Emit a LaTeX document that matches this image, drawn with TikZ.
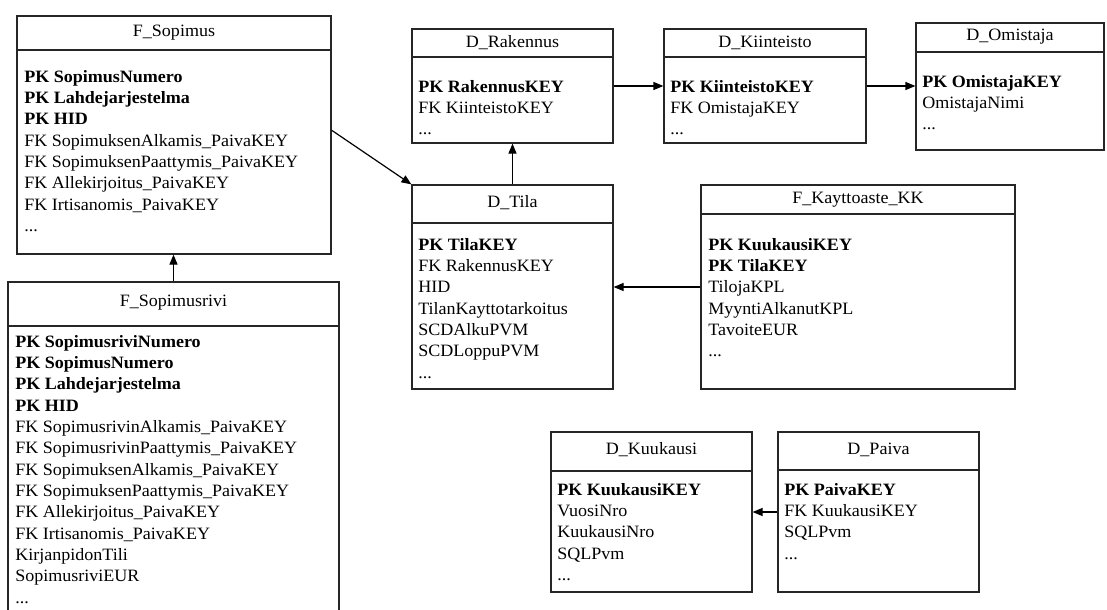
\documentclass[tikz,border=0pt]{standalone}
\usepackage{fontspec}
\setmainfont{Liberation Serif}[FakeStretch=1.04]
\usetikzlibrary{arrows.meta,fit,calc}
\begin{document}
\begin{tikzpicture}[x=0.75pt,y=-0.75pt,
  tbl/.style={draw=black!85, line width=0.9pt, inner sep=0pt},
  hdr/.style={draw=black!85, line width=0.9pt},
  ttl/.style={inner sep=0pt, font=\fontsize{13}{16}\selectfont},
  body/.style={anchor=north west, align=left, inner sep=0pt, font=\fontsize{13}{16}\selectfont},
  conn/.style={line width=0.9pt, draw=black, -{Triangle[length=7.5pt,width=6pt]}}]
\useasboundingbox (0,0) rectangle (1107,610);

% F_Sopimus
\node[tbl, fit={(17,16) (331,254)}] (fs) {};
\draw[hdr] (17,50) -- (331,50);
\node[ttl] (fst) at (174,33) {F\_Sopimus};
\node[body] (fsb) at (24,67) {\strut\textbf{PK SopimusNumero}\\
\textbf{PK Lahdejarjestelma}\\
\textbf{PK HID}\\
FK SopimuksenAlkamis\_PaivaKEY\\
FK SopimuksenPaattymis\_PaivaKEY\\
FK Allekirjoitus\_PaivaKEY\\
FK Irtisanomis\_PaivaKEY\\
...};

% F_Sopimusrivi
\node[tbl, fit={(8,282) (339,614)}] (frv) {};
\draw[hdr] (8,326) -- (339,326);
\node[ttl] (frvt) at (173.5,303) {F\_Sopimusrivi};
\node[body] (frvb) at (15,332) {\strut\textbf{PK SopimusriviNumero}\\
\textbf{PK SopimusNumero}\\
\textbf{PK Lahdejarjestelma}\\
\textbf{PK HID}\\
FK SopimusrivinAlkamis\_PaivaKEY\\
FK SopimusrivinPaattymis\_PaivaKEY\\
FK SopimuksenAlkamis\_PaivaKEY\\
FK SopimuksenPaattymis\_PaivaKEY\\
FK Allekirjoitus\_PaivaKEY\\
FK Irtisanomis\_PaivaKEY\\
KirjanpidonTili\\
SopimusriviEUR\\
...};

% D_Rakennus
\node[tbl, fit={(412,29) (613,143)}] (rak) {};
\draw[hdr] (412,57) -- (613,57);
\node[ttl] (rakt) at (512.5,43) {D\_Rakennus};
\node[body] (rakb) at (418,77) {\strut\textbf{PK RakennusKEY}\\
FK KiinteistoKEY\\
...};

% D_Kiinteisto
\node[tbl, fit={(664,29) (866,143)}] (kii) {};
\draw[hdr] (664,57) -- (866,57);
\node[ttl] (kiit) at (765,43) {D\_Kiinteisto};
\node[body] (kiib) at (670,77) {\strut\textbf{PK KiinteistoKEY}\\
FK OmistajaKEY\\
...};

% D_Omistaja
\node[tbl, fit={(916,23) (1104,150)}] (om) {};
\draw[hdr] (916,52) -- (1104,52);
\node[ttl] (omt) at (1010,37) {D\_Omistaja};
\node[body] (omb) at (922,72) {\strut\textbf{PK OmistajaKEY}\\
OmistajaNimi\\
...};

% D_Tila
\node[tbl, fit={(412,185) (613,389)}] (tila) {};
\draw[hdr] (412,223) -- (613,223);
\node[ttl] (tilat) at (512.5,203) {D\_Tila};
\node[body] (tilab) at (418,235) {\strut\textbf{PK TilaKEY}\\
FK RakennusKEY\\
HID\\
TilanKayttotarkoitus\\
SCDAlkuPVM\\
SCDLoppuPVM\\
...};

% F_Kayttoaste_KK
\node[tbl, fit={(701,185) (1015,389)}] (kay) {};
\draw[hdr] (701,214) -- (1015,214);
\node[ttl] (kayt) at (858,200) {F\_Kayttoaste\_KK};
\node[body] (kayb) at (708,235) {\strut\textbf{PK KuukausiKEY}\\
\textbf{PK TilaKEY}\\
TilojaKPL\\
MyyntiAlkanutKPL\\
TavoiteEUR\\
...};

% D_Kuukausi
\node[tbl, fit={(551,432) (752,592)}] (kuu) {};
\draw[hdr] (551,471) -- (752,471);
\node[ttl] (kuut) at (651.5,450) {D\_Kuukausi};
\node[body] (kuub) at (557,480) {\strut\textbf{PK KuukausiKEY}\\
VuosiNro\\
KuukausiNro\\
SQLPvm\\
...};

% D_Paiva
\node[tbl, fit={(778,432) (979,592)}] (pai) {};
\draw[hdr] (778,470) -- (979,470);
\node[ttl] (pait) at (878.5,450) {D\_Paiva};
\node[body] (paib) at (784,480) {\strut\textbf{PK PaivaKEY}\\
FK KuukausiKEY\\
SQLPvm\\
...};

% connectors
\draw[conn] (frv.north) -- (frv.north |- fs.south);
\draw[conn] ($(fs.north east)!0.48!(fs.south east)$) -- (tila.north west);
\draw[conn] (tila.north) -- (rak.south);
\draw[conn] (rak.east) -- (kii.west);
\draw[conn] (kii.east) -- (kii.east -| om.west);
\draw[conn] (kay.west) -- (tila.east);
\draw[conn] (pai.west) -- (kuu.east);
\end{tikzpicture}
\end{document}
